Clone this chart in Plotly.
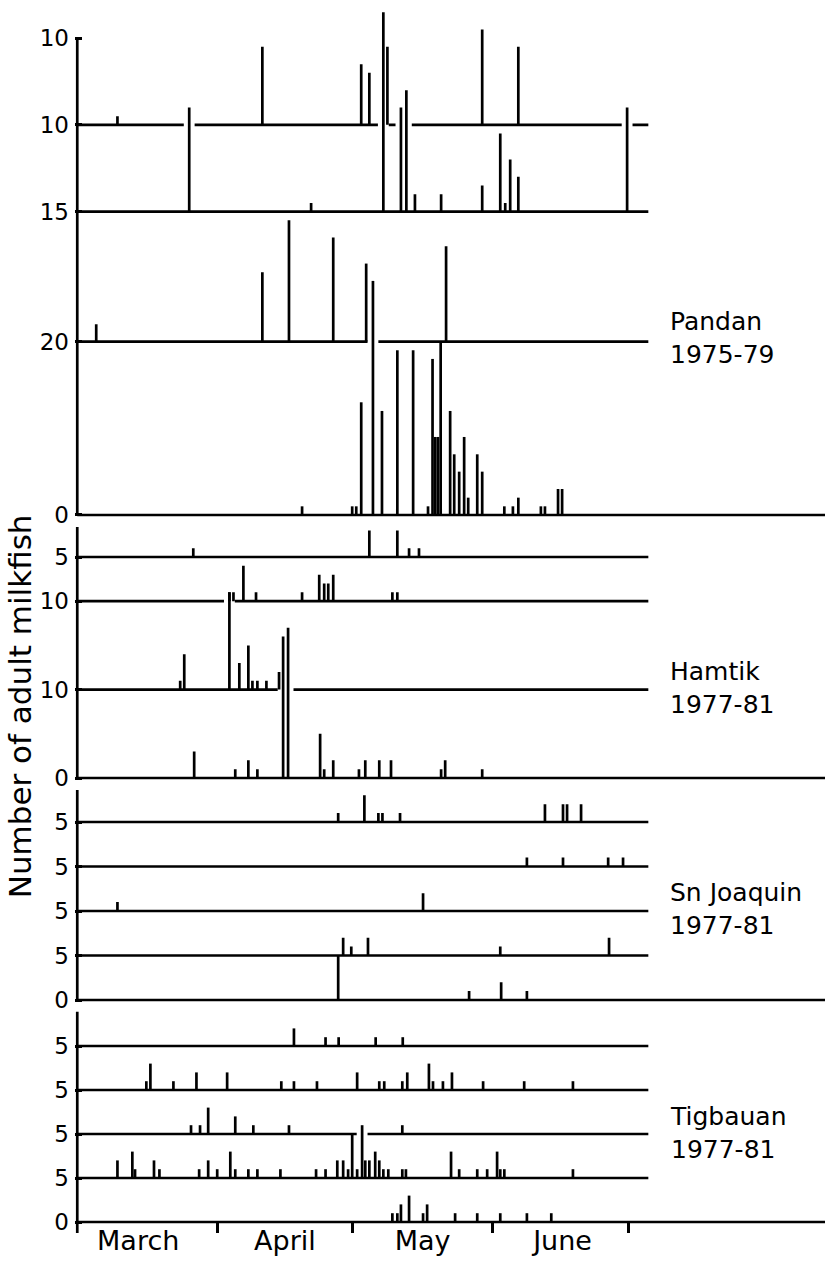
import plotly.graph_objects as go

# ---------------------------------------------------------------------------
# DATA  (x = days after 1 March, y = number of adult milkfish caught)
# ---------------------------------------------------------------------------
months = ["March", "April", "May", "June"]
month_bounds = [31, 61, 92, 122]
month_label_days = [13.5, 46, 76.5, 107.5]

# ---- Pandan 1975-79 (rows top -> bottom) ----
pandan_tick_vals = [0, 20, 35, 45, 55]
pandan_tick_text = ["0", "20", "15", "10", "10"]
pandan_row_offsets = [45, 35, 20, 0]
pandan_r1_day = [8.9, 41.0, 62.9, 64.7, 68.7, 89.7, 97.7]
pandan_r1_n = [1, 9, 7, 6, 9, 11, 9]
pandan_r2_day = [24.8, 51.8, 67.8, 71.7, 72.9, 74.8, 80.6, 89.7, 93.7, 94.8, 95.9, 97.7, 121.8]
pandan_r2_n = [12, 1, 23, 12, 14, 2, 2, 3, 9, 1, 6, 4, 12]
pandan_r3_day = [4.2, 41.0, 46.9, 56.7, 64.0, 81.7]
pandan_r3_n = [2, 8, 14, 12, 9, 11]
pandan_r4_day = [49.8, 60.9, 61.8, 62.9, 65.5, 67.5, 70.9, 74.4, 77.7, 78.7, 79.3, 79.9,
                 80.5, 82.6, 83.5, 84.6, 85.7, 86.6, 88.6, 89.7, 94.6, 96.5, 97.7, 102.7,
                 103.6, 106.5, 107.4]
pandan_r4_n = [1, 1, 1, 13, 27, 12, 19, 19, 1, 18, 9, 9,
               20, 12, 7, 5, 9, 2, 7, 5, 1, 1, 2, 1,
               1, 3, 3]

# ---- Hamtik 1977-81 ----
hamtik_tick_vals = [0, 10, 20, 25]
hamtik_tick_text = ["0", "10", "10", "5"]
hamtik_row_offsets = [25, 20, 10, 0]
hamtik_r1_day = [25.7, 64.7, 70.9, 73.5, 75.7]
hamtik_r1_n = [1, 3, 3, 1, 1]
hamtik_r2_day = [33.7, 34.6, 36.8, 39.6, 49.8, 53.6, 54.7, 55.6, 56.7, 69.8, 70.9]
hamtik_r2_n = [1, 1, 4, 1, 1, 3, 2, 2, 3, 1, 1]
hamtik_r3_day = [22.8, 23.7, 33.7, 35.9, 37.9, 38.8, 39.9, 41.9, 44.7]
hamtik_r3_n = [1, 4, 11, 3, 5, 1, 1, 1, 2]
hamtik_r4_day = [25.9, 35.0, 37.9, 39.9, 45.6, 46.7, 53.8, 54.7, 56.7, 62.4, 63.8, 66.9,
                 69.5, 80.6, 81.5, 89.7]
hamtik_r4_n = [3, 1, 2, 1, 16, 17, 5, 1, 2, 1, 2, 2,
               2, 1, 2, 1]

# ---- Sn Joaquin 1977-81 ----
snjoaquin_tick_vals = [0, 5, 10, 15, 20]
snjoaquin_tick_text = ["0", "5", "5", "5", "5"]
snjoaquin_row_offsets = [20, 15, 10, 5, 0]
snjoaquin_r1_day = [57.8, 63.6, 66.7, 67.6, 71.5, 103.6, 107.6, 108.5, 111.6]
snjoaquin_r1_n = [1, 3, 1, 1, 1, 2, 2, 2, 2]
snjoaquin_r2_day = [99.6, 107.6, 117.6, 120.9]
snjoaquin_r2_n = [1, 1, 1, 1]
snjoaquin_r3_day = [8.9, 76.6]
snjoaquin_r3_n = [1, 2]
snjoaquin_r4_day = [58.9, 60.7, 64.4, 93.7, 117.8]
snjoaquin_r4_n = [2, 1, 2, 1, 2]
snjoaquin_r5_day = [57.8, 86.8, 93.9, 99.6]
snjoaquin_r5_n = [5, 1, 2, 1]

# ---- Tigbauan 1977-81 ----
tigbauan_tick_vals = [0, 5, 10, 15, 20]
tigbauan_tick_text = ["0", "5", "5", "5", "5"]
tigbauan_row_offsets = [20, 15, 10, 5, 0]
tigbauan_r1_day = [48.0, 55.0, 57.9, 66.1, 72.1]
tigbauan_r1_n = [2, 1, 1, 1, 1]
tigbauan_r2_day = [15.3, 16.2, 21.3, 26.4, 33.2, 45.2, 48.0, 53.1, 62.0, 66.9, 68.0, 72.0,
                   73.1, 77.9, 78.8, 81.0, 83.0, 89.9, 99.0, 109.8]
tigbauan_r2_n = [1, 3, 1, 2, 2, 1, 1, 1, 2, 1, 1, 1,
                 2, 3, 1, 1, 2, 1, 1, 1]
tigbauan_r3_day = [25.2, 27.2, 29.0, 35.0, 39.0, 46.9, 72.0]
tigbauan_r3_n = [1, 1, 3, 2, 1, 1, 1]
tigbauan_r4_day = [8.9, 12.2, 12.8, 17.0, 18.2, 27.0, 29.0, 31.0, 33.9, 35.0, 37.9, 39.9,
                   45.0, 52.9, 55.0, 57.6, 58.9, 60.0, 60.9, 62.0, 63.1, 63.8, 64.7, 66.0,
                   66.9, 67.8, 68.9, 72.0, 72.8, 82.8, 84.6, 88.6, 90.8, 93.0, 93.7, 94.6,
                   109.8]
tigbauan_r4_n = [2, 3, 1, 2, 1, 1, 2, 1, 3, 1, 1, 1,
                 1, 1, 1, 2, 2, 1, 5, 1, 6, 2, 2, 3,
                 2, 1, 1, 1, 1, 3, 1, 1, 1, 3, 1, 1,
                 1]
tigbauan_r5_day = [69.8, 70.9, 71.7, 73.5, 76.6, 77.5, 83.7, 88.6, 93.7, 99.6, 105.0]
tigbauan_r5_n = [1, 1, 2, 3, 1, 2, 1, 1, 1, 1, 1]

panels = [
    dict(label="Pandan<br>1975-79", offsets=pandan_row_offsets,
         days=[pandan_r1_day, pandan_r2_day, pandan_r3_day, pandan_r4_day],
         fish=[pandan_r1_n, pandan_r2_n, pandan_r3_n, pandan_r4_n],
         tickvals=pandan_tick_vals, ticktext=pandan_tick_text),
    dict(label="Hamtik<br>1977-81", offsets=hamtik_row_offsets,
         days=[hamtik_r1_day, hamtik_r2_day, hamtik_r3_day, hamtik_r4_day],
         fish=[hamtik_r1_n, hamtik_r2_n, hamtik_r3_n, hamtik_r4_n],
         tickvals=hamtik_tick_vals, ticktext=hamtik_tick_text),
    dict(label="Sn Joaquin<br>1977-81", offsets=snjoaquin_row_offsets,
         days=[snjoaquin_r1_day, snjoaquin_r2_day, snjoaquin_r3_day, snjoaquin_r4_day, snjoaquin_r5_day],
         fish=[snjoaquin_r1_n, snjoaquin_r2_n, snjoaquin_r3_n, snjoaquin_r4_n, snjoaquin_r5_n],
         tickvals=snjoaquin_tick_vals, ticktext=snjoaquin_tick_text),
    dict(label="Tigbauan<br>1977-81", offsets=tigbauan_row_offsets,
         days=[tigbauan_r1_day, tigbauan_r2_day, tigbauan_r3_day, tigbauan_r4_day, tigbauan_r5_day],
         fish=[tigbauan_r1_n, tigbauan_r2_n, tigbauan_r3_n, tigbauan_r4_n, tigbauan_r5_n],
         tickvals=tigbauan_tick_vals, ticktext=tigbauan_tick_text),
]

# ---------------------------------------------------------------------------
# LAYOUT GEOMETRY (pixels)
# ---------------------------------------------------------------------------
W, H = 825, 1265
LEFT_PX = 77.0
PX_PER_DAY = 4.516
X_PAD = 0.5
x_min = -X_PAD
x_max = (W - LEFT_PX) / PX_PER_DAY
margin_l = LEFT_PX - X_PAD * PX_PER_DAY
plot_w = W - margin_l
PLOT_BOTTOM = 1233.0
ROW_END = 126.5          # right end of the inner baselines (days)

geom = [
    dict(base_px=515, ppu=8.67, ymin=-0.3, ymax=58.6, axis_bottom=0, axis_top=55, label_y=20.4),
    dict(base_px=778, ppu=8.84, ymin=-0.3, ymax=29.2, axis_bottom=0, axis_top=28.4, label_y=10.2),
    dict(base_px=1000, ppu=8.9, ymin=-0.3, ymax=24.6, axis_bottom=0, axis_top=23.6, label_y=10.2),
    dict(base_px=1222, ppu=8.8, ymin=-1.25, ymax=24.5, axis_bottom=-1.25, axis_top=23.9, label_y=10.1),
]

FONT = "DejaVu Sans"
LW = 2.7
fig = go.Figure()
annotations = []

for i, (p, g) in enumerate(zip(panels, geom), start=1):
    xa, ya = ("x" if i == 1 else f"x{i}"), ("y" if i == 1 else f"y{i}")
    offsets = p["offsets"]
    # baselines
    bx, by = [], []
    for off in offsets:
        end = x_max if off == 0 else ROW_END
        bx += [0, end, None]
        by += [off, off, None]
    fig.add_trace(go.Scatter(x=bx, y=by, mode="lines", line=dict(color="black", width=LW),
                             xaxis=xa, yaxis=ya, hoverinfo="skip", showlegend=False))
    # white gaps where a tall spike crosses another baseline
    gx, gy = [], []
    sx, sy = [], []
    for off, days, fish in zip(offsets, p["days"], p["fish"]):
        for d, n in zip(days, fish):
            sx += [d, d, None]
            sy += [off, off + n, None]
            for other in offsets:
                if off < other < off + n:
                    gx += [d - 1.2, d + 1.2, None]
                    gy += [other, other, None]
    if gx:
        fig.add_trace(go.Scatter(x=gx, y=gy, mode="lines", line=dict(color="white", width=5),
                                 xaxis=xa, yaxis=ya, hoverinfo="skip", showlegend=False))
    fig.add_trace(go.Scatter(x=sx, y=sy, mode="lines", line=dict(color="black", width=LW),
                             xaxis=xa, yaxis=ya, hoverinfo="skip", showlegend=False))
    # left vertical axis line
    fig.add_trace(go.Scatter(x=[0, 0], y=[g["axis_bottom"], g["axis_top"]], mode="lines",
                             line=dict(color="black", width=LW),
                             xaxis=xa, yaxis=ya, hoverinfo="skip", showlegend=False))

    bottom_px = g["base_px"] - g["ymin"] * g["ppu"]
    top_px = g["base_px"] - g["ymax"] * g["ppu"]
    dom = [(PLOT_BOTTOM - bottom_px) / PLOT_BOTTOM, (PLOT_BOTTOM - top_px) / PLOT_BOTTOM]

    xkey = "xaxis" if i == 1 else f"xaxis{i}"
    ykey = "yaxis" if i == 1 else f"yaxis{i}"
    xcfg = dict(range=[x_min, x_max], domain=[0, 1], showgrid=False, zeroline=False,
                showline=False, fixedrange=True)
    if i == len(panels):
        xcfg.update(anchor="free", position=(PLOT_BOTTOM - g["base_px"]) / PLOT_BOTTOM,
                    tickmode="array", tickvals=month_label_days, ticktext=months,
                    ticks="",
                    tickfont=dict(family=FONT, size=27, color="black"),
                    minor=dict(tickmode="array", tickvals=month_bounds, ticks="outside",
                               ticklen=10, tickwidth=LW, tickcolor="black"),
                    automargin=False)
    else:
        xcfg.update(anchor=ya, showticklabels=False, ticks="")
    ycfg = dict(range=[g["ymin"], g["ymax"]], domain=dom, anchor=xa, showgrid=False,
                zeroline=False, showline=False, tickmode="array", tickvals=p["tickvals"],
                ticktext=p["ticktext"], ticks="inside", ticklen=7, tickwidth=LW,
                tickcolor="black", ticklabelstandoff=5,
                tickfont=dict(family=FONT, size=23, color="black"),
                fixedrange=True, automargin=False)
    fig.update_layout({xkey: xcfg, ykey: ycfg})

    annotations.append(dict(x=130.9, y=g["label_y"], xref=xa, yref=ya, text=p["label"],
                            showarrow=False, xanchor="left", yanchor="middle", align="left",
                            font=dict(family=FONT, size=25, color="black")))

annotations.append(dict(x=(20 - margin_l) / plot_w, y=(PLOT_BOTTOM - 706) / PLOT_BOTTOM,
                        xref="paper", yref="paper", text="Number of adult milkfish",
                        textangle=-90, showarrow=False, xanchor="center", yanchor="middle",
                        font=dict(family=FONT, size=31, color="black")))

fig.update_layout(width=W, height=H, margin=dict(l=margin_l, r=0, t=0, b=H - PLOT_BOTTOM),
                  paper_bgcolor="white", plot_bgcolor="white", annotations=annotations,
                  showlegend=False, hovermode=False, font=dict(family=FONT, color="black"))

fig.write_html("out.html")
